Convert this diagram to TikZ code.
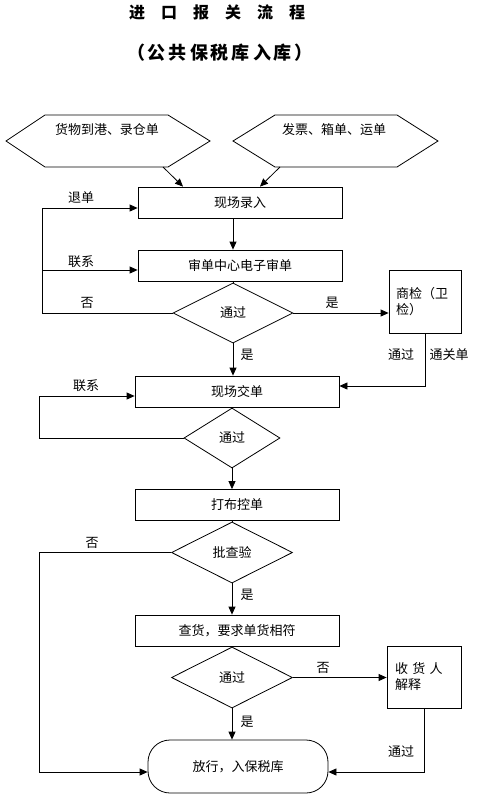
\documentclass[tikz,border=0pt]{standalone}
\usepackage{fontspec}
\setmainfont{Noto Sans CJK SC}
\usetikzlibrary{arrows.meta,shapes.geometric}
\tikzset{
  every node/.style={font=\fontsize{13}{16}\selectfont},
  box/.style={draw, line width=0.8pt, minimum width=204pt, minimum height=31pt, inner sep=0pt},
  dia/.style={draw, diamond, line width=0.8pt, inner sep=0pt},
  sidebox/.style={draw, line width=0.8pt, inner sep=0pt, align=left},
  arr/.style={line width=0.8pt, -{Triangle[length=8pt,width=7pt]}},
  ln/.style={line width=0.8pt},
  lbl/.style={inner sep=0pt},
}
\newcommand{\gp}{\hspace{3pt}}
\begin{document}
\begin{tikzpicture}[x=1pt,y=-1pt]
\useasboundingbox (0,0) rectangle (491,801);
% titles
\node[lbl, font=\fontsize{16}{18}\selectfont\bfseries] (title) at (217,12) {进\hspace{16pt}口\hspace{16pt}报\hspace{16pt}关\hspace{16pt}流\hspace{16pt}程};
\node[lbl, font=\fontsize{18}{20}\selectfont\bfseries] (subtitle) at (220,53) {（\gp 公\gp 共\gp 保\gp 税\gp 库\gp 入\gp 库\gp ）};
% hexagons
\draw[ln] (6,141) -- (45,115) -- (168,115) -- (210,141) -- (168,167) -- (45,167) -- cycle;
\draw[ln] (233,141) -- (275,115) -- (397,115) -- (438,141) -- (397,167) -- (275,167) -- cycle;
\node[lbl] (h1t) at (107,130) {货物到港、录仓单};
\node[lbl] (h2t) at (334,130) {发票、箱单、运单};
\coordinate (h1o) at (163,167);
\coordinate (h2o) at (280,167);
% main nodes
\node[box] (b1) at (240,202.5) {现场录入};
\node[box] (b2) at (240,265.5) {审单中心电子审单};
\node[dia, minimum width=120pt, minimum height=60pt] (d1) at (233,313) {通过};
\node[sidebox, minimum width=72pt, minimum height=63pt, text width=58pt] (sj) at (425,301.5) {商检（卫\\检）};
\node[box] (b3) at (237,391.5) {现场交单};
\node[dia, minimum width=96pt, minimum height=60pt] (d2) at (232,438) {通过};
\node[box] (b4) at (237,505) {打布控单};
\node[dia, minimum width=121pt, minimum height=61pt] (d3) at (232,552.5) {批查验};
\node[box] (b5) at (237,630.5) {查货，要求单货相符};
\node[dia, minimum width=121pt, minimum height=61pt] (d4) at (232,677.5) {通过};
\node[sidebox, minimum width=74pt, minimum height=62pt, text width=58pt] (sh) at (424,677) {收 货 人\\解释};
\node[draw, line width=0.8pt, rounded corners=22pt, minimum width=180pt, minimum height=53pt, inner sep=0pt] (term) at (238,766.5) {放行，入保税库};
% hexagon arrows
\draw[arr] (h1o) -- ([xshift=-57pt]b1.north);
\draw[arr] (h2o) -- ([xshift=20pt]b1.north);
% main flow
\draw[arr] (b1.south -| d1) -- (b2.north -| d1);
\draw[ln] (b2.south -| d1) -- (d1.north);
\draw[arr] (d1.south) -- (b3.north -| d1);
\draw[ln] (b3.south -| d2) -- (d2.north);
\draw[arr] (d2.south) -- (b4.north -| d2);
\draw[ln] (b4.south -| d3) -- (d3.north);
\draw[arr] (d3.south) -- (b5.north -| d3);
\draw[ln] (b5.south -| d4) -- (d4.north);
\draw[arr] (d4.south) -- (d4.south |- term.north);
% first loop
\coordinate (L1) at (42,313);
\coordinate (L1b) at (42,270);
\draw[arr] (d1.west) -- (L1) |- ([yshift=-5.5pt]b1.west);
\draw[arr] (L1b) -- (L1b -| b2.west);
% shangjian
\draw[arr] (d1.east) -- (d1.east -| sj.west);
\draw[arr] (sj.south) |- ([yshift=5.5pt]b3.east);
% second loop
\coordinate (L2) at (39,438);
\draw[arr] (d2.west) -- (L2) |- ([yshift=-4.5pt]b3.west);
% check loop
\coordinate (L3) at (39,552.5);
\draw[arr] (d3.west) -- (L3) |- ([yshift=-5.5pt]term.west);
\draw[arr] (d4.east) -- (d4.east -| sh.west);
\draw[arr] (sh.south) |- ([yshift=-5.5pt]term.east);
% labels
\node[lbl] (l1) at (81,198) {退单};
\node[lbl] (l2) at (81,262) {联系};
\node[lbl] (l3) at (87,303) {否};
\node[lbl] (l4) at (332,303) {是};
\node[lbl] (l5) at (247,355) {是};
\node[lbl] (l6) at (401,355) {通过};
\node[lbl] (l7) at (449,355) {通关单};
\node[lbl] (l8) at (86,386) {联系};
\node[lbl] (l9) at (92,543) {否};
\node[lbl] (l10) at (247,595) {是};
\node[lbl] (l11) at (323,668) {否};
\node[lbl] (l12) at (247,722) {是};
\node[lbl] (l13) at (401,752) {通过};
\end{tikzpicture}
\end{document}
